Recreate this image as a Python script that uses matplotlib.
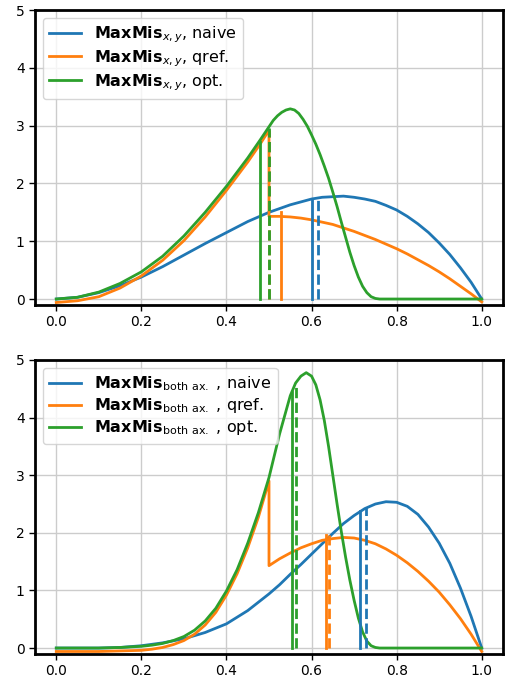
"""Density of MaxMis for the three estimators, x/y axis and both axes."""

import matplotlib

matplotlib.use("Agg")
from matplotlib import pyplot as plt  # noqa: E402

COLORS = {"naive": "#1f77b4", "qref": "#ff7f0e", "opt": "#2ca02c"}
SUFFIX = {"naive": "naive", "qref": "qref.", "opt": "opt."}

# ---- top panel: MaxMis_{x,y} ----
XY_NAIVE_X = [0, .05, .1, .15, .2, .25, .3, .35, .4, .45, .5, .55, .6, .625, .65, .675,
              .7, .725, .75, .775, .8, .825, .85, .875, .9, .925, .95, .975, 1.0]
XY_NAIVE_Y = [0, .03, .11, .23, .38, .56, .76, .96, 1.15, 1.34, 1.50, 1.63, 1.73, 1.76,
              1.77, 1.78, 1.76, 1.73, 1.69, 1.62, 1.54, 1.43, 1.30, 1.15, .97, .77, .54, .29, 0]

XY_QREF_X = [0, .05, .1, .15, .2, .25, .3, .35, .4, .45, .48, .5, .5, .525, .55, .575, .6,
             .625, .65, .675, .7, .725, .75, .775, .8, .825, .85, .875, .9, .925, .95, .975, 1.0]
XY_QREF_Y = [-.06, -.03, .04, .19, .40, .67, 1.01, 1.42, 1.88, 2.37, 2.69, 2.92, 1.43, 1.43,
             1.42, 1.40, 1.37, 1.33, 1.29, 1.23, 1.17, 1.10, 1.03, .95, .87, .78, .68, .58,
             .47, .35, .22, .09, -.05]

XY_OPT_X = [0, .05, .1, .15, .2, .25, .3, .35, .4, .45, .48, .5, .51, .52, .53, .54, .55, .56,
            .57, .58, .59, .6, .61, .62, .63, .64, .65, .66, .67, .68, .69, .7, .71, .72, .73,
            .74, .75, .76, 1.0]
XY_OPT_Y = [0, .03, .12, .27, .47, .74, 1.09, 1.50, 1.95, 2.44, 2.76, 2.98, 3.09, 3.17, 3.23,
            3.27, 3.29, 3.27, 3.21, 3.11, 2.99, 2.84, 2.68, 2.50, 2.30, 2.09, 1.85, 1.60, 1.33,
            1.07, .81, .58, .38, .22, .11, .04, .01, 0, 0]

# mean (solid) and median (dashed) markers: (x, height)
XY_MEAN = {"naive": (0.600, 1.73), "qref": (0.529, 1.51), "opt": (0.479, 2.72)}
XY_MEDIAN = {"naive": (0.614, 1.74), "qref": (0.500, 2.92), "opt": (0.500, 2.96)}

# ---- bottom panel: MaxMis_{both ax.} ----
BOTH_NAIVE_X = [0, .1, .15, .2, .25, .3, .35, .4, .45, .5, .525, .55, .575, .6, .625, .65,
                .675, .7, .725, .75, .775, .8, .825, .85, .875, .9, .925, .95, .975, 1.0]
BOTH_NAIVE_Y = [0, 0, .01, .04, .09, .16, .27, .42, .65, .94, 1.10, 1.28, 1.45, 1.63, 1.81,
                1.99, 2.16, 2.30, 2.42, 2.50, 2.54, 2.53, 2.46, 2.32, 2.10, 1.82, 1.47, 1.04,
                .55, 0]

BOTH_QREF_X = [0, .1, .2, .225, .25, .275, .3, .325, .35, .375, .4, .425, .45, .475, .5, .5,
               .525, .55, .575, .6, .625, .65, .675, .7, .725, .75, .775, .8, .825, .85, .875,
               .9, .925, .95, .975, 1.0]
BOTH_QREF_Y = [-.06, -.06, -.04, -.02, .01, .06, .13, .24, .40, .62, .92, 1.29, 1.74, 2.27,
               2.90, 1.43, 1.55, 1.65, 1.74, 1.81, 1.87, 1.90, 1.92, 1.91, 1.87, 1.81, 1.72,
               1.61, 1.48, 1.33, 1.16, .97, .75, .51, .24, -.06]

BOTH_OPT_X = [0, .1, .15, .2, .225, .25, .275, .3, .325, .35, .375, .4, .425, .45, .475, .5,
              .525, .55, .5625, .575, .5875, .6, .61, .62, .63, .64, .65, .66, .67, .68, .69,
              .7, .71, .72, .73, .74, .75, .76, 1.0]
BOTH_OPT_Y = [0, 0, .01, .03, .05, .08, .13, .20, .31, .47, .69, .99, 1.36, 1.82, 2.35, 2.96,
              3.72, 4.38, 4.60, 4.72, 4.78, 4.72, 4.57, 4.31, 3.95, 3.50, 3.00, 2.50, 2.02,
              1.58, 1.18, .83, .52, .28, .12, .04, .01, 0, 0]

BOTH_MEAN = {"naive": (0.713, 2.38), "qref": (0.635, 1.96), "opt": (0.553, 4.45)}
BOTH_MEDIAN = {"naive": (0.729, 2.45), "qref": (0.641, 1.96), "opt": (0.564, 4.60)}

LABEL_XY = r"$\mathbf{MaxMis}_{x,y}$"
LABEL_BOTH = r"$\mathbf{MaxMis}_{\mathrm{both\ ax.}}$ "

LW = 2.0


def _draw_panel(ax, curves, means, medians, label_head):
    for key, (xs, ys) in curves.items():
        ax.plot(xs, ys, color=COLORS[key], lw=LW, label=f"{label_head}, {SUFFIX[key]}", zorder=2)
    for key in ("naive", "qref", "opt"):
        x0, h = means[key]
        ax.plot([x0, x0], [0, h], color=COLORS[key], lw=LW, ls="-", zorder=3)
        x1, h1 = medians[key]
        ax.plot([x1, x1], [0, h1], color=COLORS[key], lw=LW, ls="--", zorder=3)

    ax.set_xlim(-0.05, 1.05)
    ax.set_ylim(-0.1, 5.0)
    ax.set_xticks([0.0, 0.2, 0.4, 0.6, 0.8, 1.0])
    ax.set_yticks([0, 1, 2, 3, 4, 5])
    ax.grid(True, color="#cccccc", lw=1.0)
    ax.set_axisbelow(True)
    for spine in ax.spines.values():
        spine.set_linewidth(2.0)
        spine.set_color("black")
    ax.tick_params(labelsize=10, width=1.0, length=4)
    ax.legend(loc="upper left", fontsize=11.5, handlelength=2.0, labelspacing=0.2,
              borderaxespad=0.5)


fig = plt.figure(figsize=(5.08, 6.8), dpi=100)
ax_top = fig.add_axes([35 / 508, 1 - 304.8 / 680, 468 / 508, 294.8 / 680])
ax_bot = fig.add_axes([35 / 508, 1 - 653.8 / 680, 468 / 508, 293.8 / 680])

_draw_panel(
    ax_top,
    {"naive": (XY_NAIVE_X, XY_NAIVE_Y), "qref": (XY_QREF_X, XY_QREF_Y), "opt": (XY_OPT_X, XY_OPT_Y)},
    XY_MEAN, XY_MEDIAN, LABEL_XY,
)
_draw_panel(
    ax_bot,
    {"naive": (BOTH_NAIVE_X, BOTH_NAIVE_Y), "qref": (BOTH_QREF_X, BOTH_QREF_Y),
     "opt": (BOTH_OPT_X, BOTH_OPT_Y)},
    BOTH_MEAN, BOTH_MEDIAN, LABEL_BOTH,
)

fig.savefig("out.png", dpi=100)
